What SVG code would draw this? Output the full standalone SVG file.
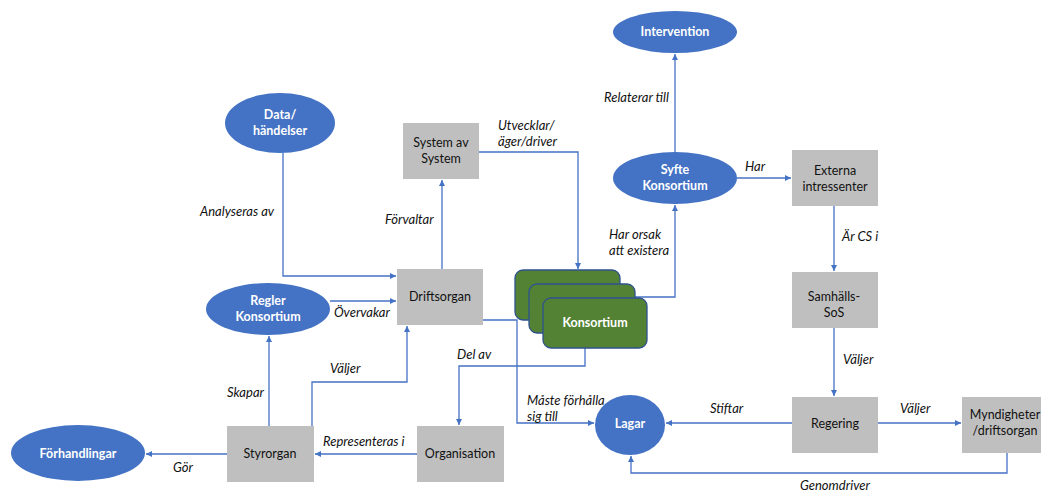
<svg xmlns="http://www.w3.org/2000/svg" width="1041" height="494" viewBox="0 0 1041 494">
<style>
.ell{fill:#4472C4;}
.box{fill:#BFBFBF;}
.kons{fill:#548235;stroke:#2F528F;stroke-width:1.3;}
.wt{font-family:Lato,"Open Sans","Liberation Sans",sans-serif;font-size:12.5px;font-weight:bold;fill:#ffffff;text-anchor:middle;}
.bt{font-family:Lato,"Open Sans","Liberation Sans",sans-serif;font-size:12.5px;fill:#111111;text-anchor:middle;}
.lbl{font-family:Lato,"Open Sans","Liberation Sans",sans-serif;font-size:13px;font-style:italic;fill:#111111;}
.con{fill:none;stroke:#4472C4;stroke-width:1.3;marker-end:url(#arr);}
</style>
<defs>
<marker id="arr" viewBox="0 0 10 10" refX="10" refY="5" markerWidth="6" markerHeight="6" markerUnits="userSpaceOnUse" orient="auto">
<path d="M0,0 L10,5 L0,10 z" fill="#4472C4"/>
</marker>
</defs>
<rect width="1041" height="494" fill="#ffffff"/>

<g id="connectors">
<path class="con" d="M283,153 V276 H396"/>
<path class="con" d="M330,301 H396"/>
<path class="con" d="M442,269 V180"/>
<path class="con" d="M479,152 H578 V269"/>
<path class="con" d="M635,297 H675 V205"/>
<path class="con" d="M675,152 V54"/>
<path class="con" d="M737,178 H791"/>
<path class="con" d="M834,206 V271"/>
<path class="con" d="M834,328 V396"/>
<path class="con" d="M792,423 H666"/>
<path class="con" d="M878,423 H961"/>
<path class="con" d="M1007,453 V473 H631 V456"/>
<path class="con" d="M483,320 H517 V423 H594"/>
<path class="con" d="M585,348 V366 H459 V425"/>
<path class="con" d="M269,426 V336"/>
<path class="con" d="M312,426 V382 H407 V326"/>
<path class="con" d="M417,454 H315"/>
<path class="con" d="M227,454 H146"/>
</g>

<g id="labels">
<text class="lbl" x="200" y="216">Analyseras av</text>
<text class="lbl" x="334" y="317">Övervakar</text>
<text class="lbl" x="385" y="224">Förvaltar</text>
<text class="lbl" x="498" y="130">Utvecklar/</text>
<text class="lbl" x="498" y="146">äger/driver</text>
<text class="lbl" x="604" y="102">Relaterar till</text>
<text class="lbl" x="745" y="171">Har</text>
<text class="lbl" x="609" y="239">Har orsak</text>
<text class="lbl" x="609" y="255">att existera</text>
<text class="lbl" x="842" y="241">Är CS i</text>
<text class="lbl" x="843" y="364">Väljer</text>
<text class="lbl" x="710" y="413">Stiftar</text>
<text class="lbl" x="900" y="413">Väljer</text>
<text class="lbl" x="800" y="490">Genomdriver</text>
<text class="lbl" x="527" y="405">Måste förhålla</text>
<text class="lbl" x="527" y="421">sig till</text>
<text class="lbl" x="457" y="359">Del av</text>
<text class="lbl" x="330" y="373">Väljer</text>
<text class="lbl" x="227" y="397">Skapar</text>
<text class="lbl" x="323" y="446">Representeras i</text>
<text class="lbl" x="173" y="472">Gör</text>
</g>

<g id="intervention">
<ellipse class="ell" cx="675" cy="32" rx="62" ry="21"/>
<text class="wt" x="675" y="36">Intervention</text>
</g>
<g id="data">
<ellipse class="ell" cx="280" cy="123" rx="55" ry="30"/>
<text class="wt" x="280" y="119">Data/</text>
<text class="wt" x="280" y="135">händelser</text>
</g>
<g id="system-av-system">
<rect class="box" x="403" y="123" width="76" height="56"/>
<text class="bt" x="441" y="147">System av</text>
<text class="bt" x="441" y="163">System</text>
</g>
<g id="syfte">
<ellipse class="ell" cx="675" cy="178" rx="62" ry="26"/>
<text class="wt" x="675" y="174">Syfte</text>
<text class="wt" x="675" y="190">Konsortium</text>
</g>
<g id="externa">
<rect class="box" x="792" y="150" width="86" height="56"/>
<text class="bt" x="835" y="175">Externa</text>
<text class="bt" x="835" y="191">intressenter</text>
</g>
<g id="driftsorgan">
<rect class="box" x="397" y="269" width="86" height="56"/>
<text class="bt" x="440" y="301">Driftsorgan</text>
</g>
<g id="regler">
<ellipse class="ell" cx="268" cy="309" rx="62" ry="26"/>
<text class="wt" x="268" y="305">Regler</text>
<text class="wt" x="268" y="321">Konsortium</text>
</g>
<g id="konsortium">
<rect class="kons" x="515" y="270" width="105" height="50" rx="8"/>
<rect class="kons" x="529" y="284" width="106" height="49" rx="8"/>
<rect class="kons" x="543" y="298" width="104" height="50" rx="8"/>
<text class="wt" x="595" y="327">Konsortium</text>
</g>
<g id="samhalls-sos">
<rect class="box" x="792" y="272" width="86" height="56"/>
<text class="bt" x="834" y="301">Samhälls-</text>
<text class="bt" x="834" y="317">SoS</text>
</g>
<g id="lagar">
<ellipse class="ell" cx="630" cy="425" rx="35" ry="30"/>
<text class="wt" x="630" y="428">Lagar</text>
</g>
<g id="regering">
<rect class="box" x="792" y="397" width="86" height="56"/>
<text class="bt" x="835" y="428">Regering</text>
</g>
<g id="myndigheter">
<rect class="box" x="962" y="397" width="86" height="56"/>
<text class="bt" x="1005" y="419">Myndigheter</text>
<text class="bt" x="1005" y="435">/driftsorgan</text>
</g>
<g id="forhandlingar">
<ellipse class="ell" cx="78" cy="453" rx="67" ry="28"/>
<text class="wt" x="78" y="458">Förhandlingar</text>
</g>
<g id="styrorgan">
<rect class="box" x="227" y="426" width="87" height="56"/>
<text class="bt" x="270" y="458">Styrorgan</text>
</g>
<g id="organisation">
<rect class="box" x="417" y="426" width="87" height="56"/>
<text class="bt" x="460" y="458">Organisation</text>
</g>
</svg>
